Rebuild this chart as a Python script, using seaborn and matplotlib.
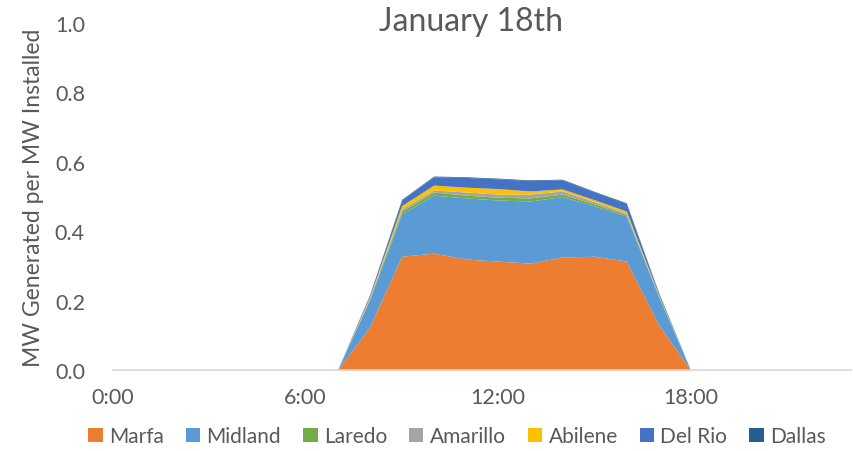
import numpy as np
import pandas as pd
import matplotlib
matplotlib.use("Agg")
import matplotlib.pyplot as plt
import seaborn as sns
from matplotlib.patches import Patch

hours = list(range(24))
marfa   = [0]*7 + [0, 0.124, 0.328, 0.337, 0.320, 0.314, 0.308, 0.326, 0.328, 0.314, 0.132, 0] + [0]*5
midland = [0]*7 + [0, 0.078, 0.122, 0.167, 0.176, 0.176, 0.179, 0.174, 0.145, 0.130, 0.081, 0] + [0]*5
laredo  = [0]*7 + [0, 0.003, 0.008, 0.009, 0.008, 0.008, 0.009, 0.007, 0.006, 0.004, 0.002, 0] + [0]*5
amarillo= [0]*7 + [0, 0.002, 0.006, 0.006, 0.009, 0.009, 0.011, 0.009, 0.006, 0.004, 0.002, 0] + [0]*5
abilene = [0]*7 + [0, 0.004, 0.010, 0.014, 0.014, 0.016, 0.009, 0.006, 0.006, 0.006, 0.002, 0] + [0]*5
delrio  = [0]*7 + [0, 0.005, 0.016, 0.024, 0.028, 0.028, 0.030, 0.026, 0.022, 0.022, 0.005, 0] + [0]*5
dallas  = [0]*7 + [0, 0.001, 0.002, 0.002, 0.002, 0.002, 0.002, 0.002, 0.002, 0.002, 0.001, 0] + [0]*5

series_names = ["Marfa", "Midland", "Laredo", "Amarillo", "Abilene", "Del Rio", "Dallas"]
colors = ["#ED7D31", "#5B9BD5", "#70AD47", "#A5A5A5", "#FFC000", "#4472C4", "#255E91"]
tick_hours = [0, 6, 12, 18]
tick_labels = ["0:00", "6:00", "12:00", "18:00"]
y_ticks = [0.0, 0.2, 0.4, 0.6, 0.8, 1.0]

df = pd.DataFrame({"hour": hours, "Marfa": marfa, "Midland": midland, "Laredo": laredo,
                   "Amarillo": amarillo, "Abilene": abilene, "Del Rio": delrio, "Dallas": dallas})

sns.set_theme(style="white")
plt.rcParams["font.family"] = ["Lato", "DejaVu Sans"]
txt = "#595959"

fig = plt.figure(figsize=(8.54, 4.52), dpi=100)
ax = fig.add_axes([0.132, 0.179, 0.8645, 0.768])

pal = sns.color_palette(colors)
ax.stackplot(df["hour"], *[df[n] for n in series_names], colors=pal, linewidth=0)

ax.set_xlim(0, 23)
ax.set_ylim(0, 1.0)
ax.set_xticks(tick_hours)
ax.set_xticklabels(tick_labels)
ax.set_yticks(y_ticks)
ax.set_yticklabels([f"{v:.1f}" for v in y_ticks])
ax.tick_params(axis="both", length=0, labelsize=15.5, colors=txt)
ax.tick_params(axis="x", pad=12)
ax.tick_params(axis="y", pad=20)
sns.despine(ax=ax, left=True, top=True, right=True)
ax.spines["bottom"].set_color("#D9D9D9")
ax.spines["bottom"].set_linewidth(1.2)

ax.set_ylabel("MW Generated per MW Installed", fontsize=16.5, color=txt, labelpad=8)
fig.text(0.551, 0.951, "January 18th", fontsize=23, color=txt, ha="center", va="center")

handles = [Patch(facecolor=c, edgecolor="none") for c in colors]
fig.legend(handles, series_names, loc="center", bbox_to_anchor=(0.535, 0.033), ncol=7,
           frameon=False, fontsize=15, labelcolor=txt, handlelength=0.7, handleheight=0.7,
           handletextpad=0.3, columnspacing=1.05)

fig.savefig("out.png", dpi=100)
